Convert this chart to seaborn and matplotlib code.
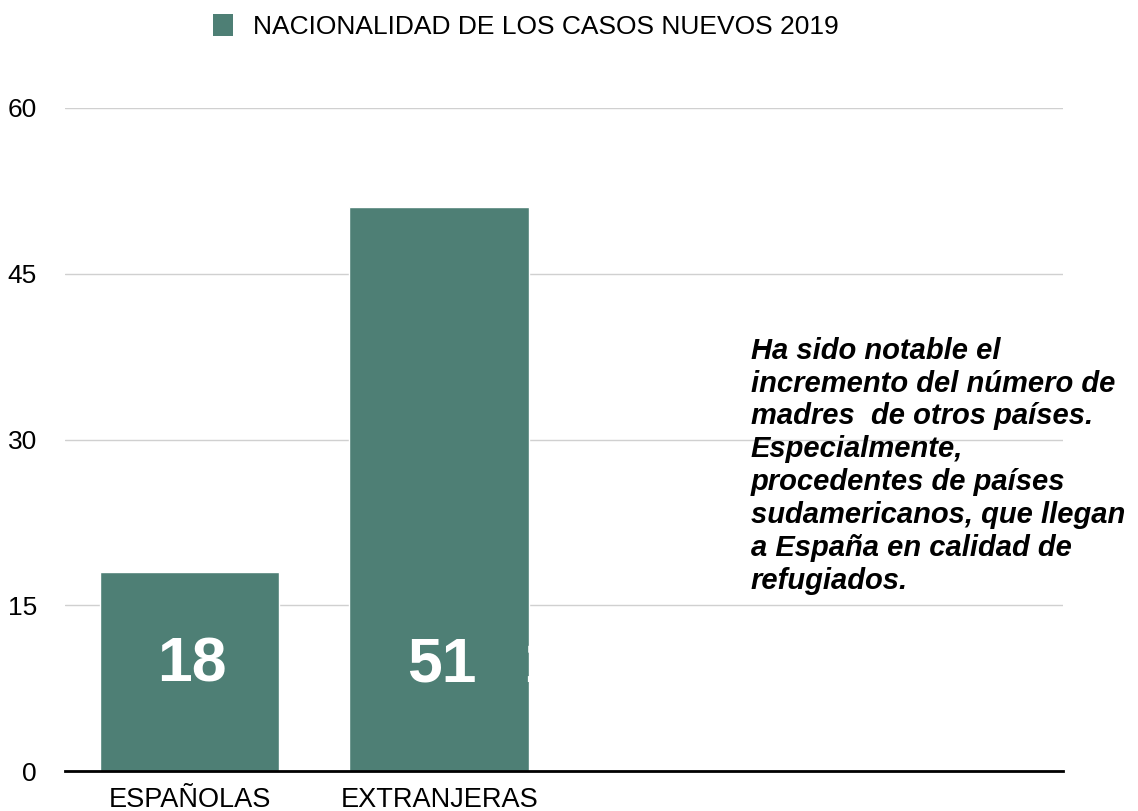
import matplotlib
matplotlib.use("Agg")
import matplotlib.pyplot as plt
import seaborn as sns
import pandas as pd
from matplotlib.patches import Patch

# -----------------------------
# DATA
# -----------------------------
categorias = ["ESPAÑOLAS", "EXTRANJERAS", " ", "  "]
casos = [18, 51, 0, 0]
etiquetas = ["18", "51"]
y_ticks = [0, 15, 30, 45, 60]
leyenda = "NACIONALIDAD DE LOS CASOS NUEVOS 2019"
nota = ("Ha sido notable el\n"
        "incremento del número de\n"
        "madres  de otros países.\n"
        "Especialmente,\n"
        "procedentes de países\n"
        "sudamericanos, que llegan\n"
        "a España en calidad de\n"
        "refugiados.")

color_barra = "#4E7F75"

sns.set_theme(style="white")
plt.rcParams["font.family"] = ["Liberation Sans", "DejaVu Sans"]
plt.rcParams["text.color"] = "black"
plt.rcParams["xtick.color"] = "black"
plt.rcParams["ytick.color"] = "black"

df = pd.DataFrame({"cat": categorias[:2], "val": casos[:2]})

fig = plt.figure(figsize=(11.38, 8.11), dpi=100)
ax = fig.add_axes([0.057, 0.049, 0.877, 0.818])

sns.barplot(data=df, x="cat", y="val", color=color_barra, width=0.72,
            saturation=1, ax=ax, zorder=3)

ax.set_xlim(-0.5, 3.5)
ax.set_ylim(0, 60)
ax.set_yticks(y_ticks)
ax.set_yticklabels([str(t) for t in y_ticks], fontsize=19)
ax.yaxis.grid(True, color="#d0d0d0", linewidth=1, zorder=0)
ax.set_xlabel("")
ax.set_ylabel("")
ax.tick_params(axis="x", labelsize=19.5, length=0, pad=11, colors="black")
ax.tick_params(axis="y", length=0, pad=20, colors="black")

for s in ["top", "right", "left"]:
    ax.spines[s].set_visible(False)
ax.spines["bottom"].set_color("black")
ax.spines["bottom"].set_linewidth(2)
ax.spines["bottom"].set_zorder(4)

# bar value labels
for i, lab in enumerate(etiquetas):
    ax.text(i + 0.01, 9.6, lab, color="white", fontsize=45, fontweight="bold",
            ha="center", va="center", zorder=5)
# small clipped fragment next to the second label
ax.text(1.338, 9.6, "1", color="white", fontsize=45, fontweight="bold",
        ha="left", va="center", zorder=5)

# annotation
ax.text(0.687, 0.655, nota, transform=ax.transAxes, fontsize=21,
        fontweight="bold", fontstyle="italic", ha="left", va="top",
        linespacing=1.22, color="black")

# legend
fig.legend(handles=[Patch(facecolor=color_barra, edgecolor="none")],
           labels=[leyenda], loc="upper center", bbox_to_anchor=(0.462, 1.012),
           frameon=False, fontsize=19, handlelength=0.75, handleheight=0.9,
           handletextpad=0.75)

fig.savefig("out.png", dpi=100)
